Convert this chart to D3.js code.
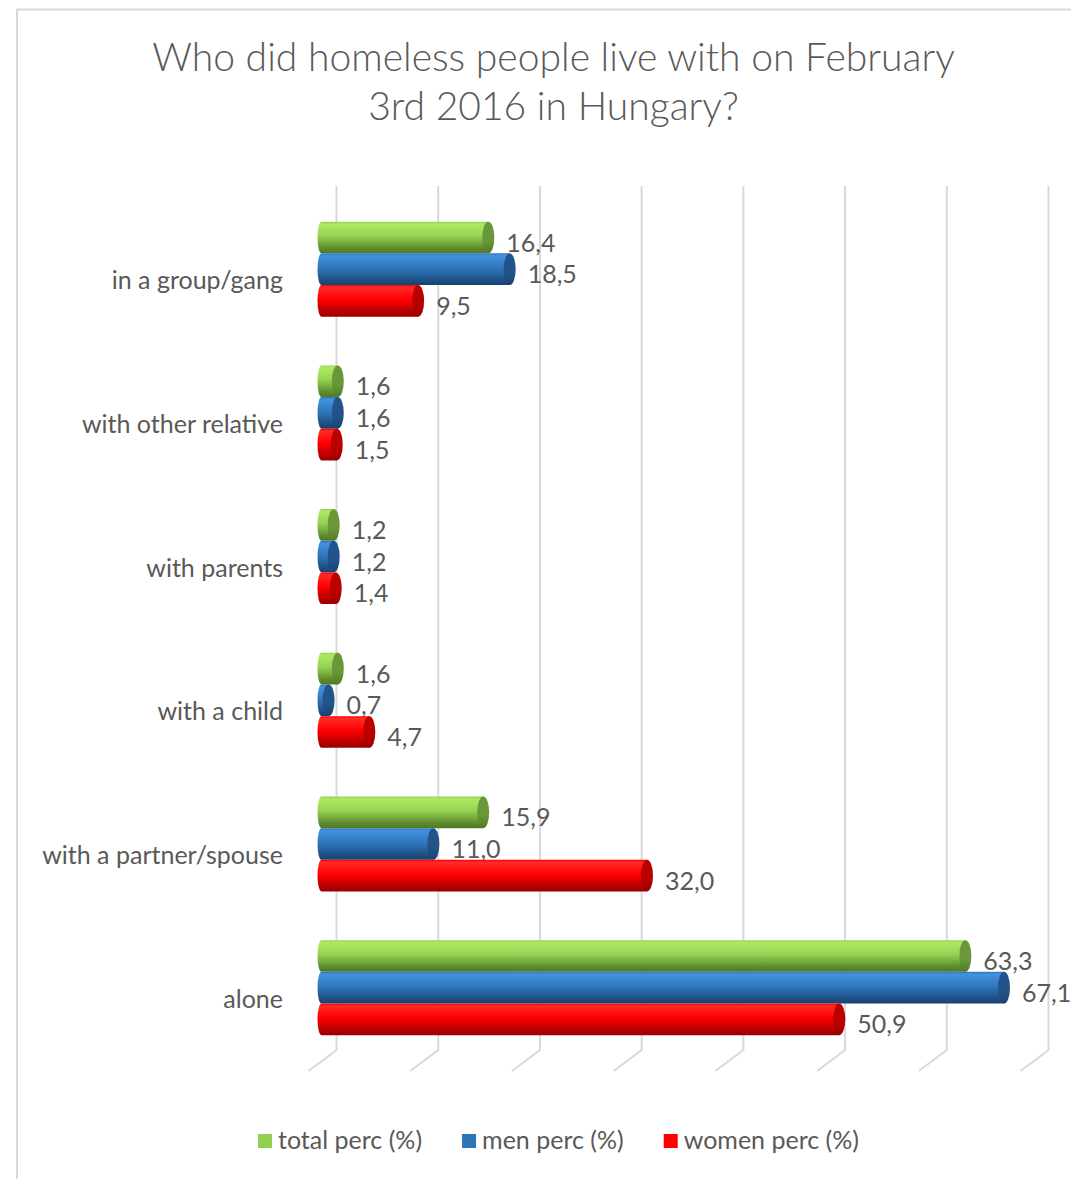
<!DOCTYPE html>
<html>
<head>
<meta charset="utf-8">
<script src="https://cdn.jsdelivr.net/npm/d3@7/dist/d3.min.js"></script>
<style>
  html, body { margin: 0; padding: 0; background: #ffffff; }
  svg { display: block; }
</style>
</head>
<body>
<div id="chart"></div>
<script>
// ---------- data ----------
const titleLines = ["Who did homeless people live with on February", "3rd 2016 in Hungary?"];
const categories = ["in a group/gang", "with other relative", "with parents", "with a child", "with a partner/spouse", "alone"];
const seriesNames = ["total perc (%)", "men perc (%)", "women perc (%)"];
const totalPerc = [16.4, 1.6, 1.2, 1.6, 15.9, 63.3];
const menPerc   = [18.5, 1.6, 1.2, 0.7, 11.0, 67.1];
const womenPerc = [9.5, 1.5, 1.4, 4.7, 32.0, 50.9];
const xTicks = [0, 10, 20, 30, 40, 50, 60, 70];

// ---------- styles ----------
const W = 1071, H = 1179;
const FONT = "Lato, Carlito, 'Open Sans', sans-serif";
const TEXT = "#595959";
const GRID = "#d9d9d9";
const palettes = [
  { light: "#aee865", base: "#95d352", dark: "#5c8a2c", edge: "#4e7a22", cap: "#6a9838", capDark: "#527a26", legend: "#92d050" },
  { light: "#4591dc", base: "#2f78c0", dark: "#1d4f82", edge: "#17426f", cap: "#22548a", capDark: "#1a426e", legend: "#2e75b6" },
  { light: "#ff2a2a", base: "#ff0000", dark: "#b30000", edge: "#990000", cap: "#bb0000", capDark: "#9a0000", legend: "#ff0000" }
];
const seriesValues = [totalPerc, menPerc, womenPerc];

const svg = d3.select("#chart").append("svg")
  .attr("width", W).attr("height", H)
  .style("font-family", FONT);

svg.append("rect").attr("width", W).attr("height", H).attr("fill", "#fff");

// frame
svg.append("path")
  .attr("d", `M17,${H} L17,9.5 L${W},9.5`)
  .attr("fill", "none").attr("stroke", GRID).attr("stroke-width", 2);

// ---------- scales ----------
const x = d3.scaleLinear().domain([0, 70]).range([321.5, 321.5 + 712]);
const step = 143.7, bandH = 95;
const pIn = (step - bandH) / step;
const y0 = 221.7 - (pIn / 2) * step;
const y = d3.scaleBand().domain(categories).range([y0, y0 + 6 * step])
  .paddingInner(pIn).paddingOuter(pIn / 2);
const ys = d3.scaleBand().domain(seriesNames).range([0, y.bandwidth()]);

const depthX = 15, floorDX = -28, floorDY = 21;
const gridTop = 186, gridBottom = 1050;

// ---------- gradients ----------
const defs = svg.append("defs");
palettes.forEach((p, i) => {
  const g = defs.append("linearGradient").attr("id", "body" + i)
    .attr("x1", 0).attr("y1", 0).attr("x2", 0).attr("y2", 1);
  g.append("stop").attr("offset", "0%").attr("stop-color", p.base);
  g.append("stop").attr("offset", "8%").attr("stop-color", p.light);
  g.append("stop").attr("offset", "45%").attr("stop-color", p.base);
  g.append("stop").attr("offset", "85%").attr("stop-color", p.dark);
  g.append("stop").attr("offset", "100%").attr("stop-color", p.edge);
  const c = defs.append("linearGradient").attr("id", "cap" + i)
    .attr("x1", 0).attr("y1", 0).attr("x2", 0).attr("y2", 1);
  c.append("stop").attr("offset", "0%").attr("stop-color", p.cap);
  c.append("stop").attr("offset", "60%").attr("stop-color", p.cap);
  c.append("stop").attr("offset", "100%").attr("stop-color", p.capDark);
});

// ---------- gridlines (back wall + floor) ----------
const grid = svg.append("g");
grid.selectAll("path").data(xTicks).join("path")
  .attr("d", t => {
    const gx = x(t) + depthX;
    return `M${gx},${gridTop} L${gx},${gridBottom} L${gx + floorDX},${gridBottom + floorDY}`;
  })
  .attr("fill", "none").attr("stroke", GRID).attr("stroke-width", 2);

// ---------- bars ----------
const capRx = 6, leftRx = 4;
const fmt = v => d3.format(".1f")(v).replace(".", ",");

const barsData = [];
categories.forEach((c, ci) => {
  seriesNames.forEach((s, si) => {
    barsData.push({ cat: c, series: s, si, value: seriesValues[si][ci] });
  });
});

const bars = svg.append("g").selectAll("g").data(barsData).join("g");
bars.append("path")
  .attr("d", d => {
    const top = y(d.cat) + ys(d.series), h = ys.bandwidth(), bot = top + h;
    const x0 = x(0), x1 = x(d.value);
    return `M${x0},${top} L${x1},${top} L${x1},${bot} L${x0},${bot} A${leftRx},${h / 2} 0 0 1 ${x0},${top} Z`;
  })
  .attr("fill", d => `url(#body${d.si})`);
bars.append("ellipse")
  .attr("cx", d => x(d.value))
  .attr("cy", d => y(d.cat) + ys(d.series) + ys.bandwidth() / 2)
  .attr("rx", capRx)
  .attr("ry", ys.bandwidth() / 2)
  .attr("fill", d => `url(#cap${d.si})`);

// ---------- text sizing (fit to reference widths) ----------
function fitSize(str, target, weight) {
  const t = svg.append("text").attr("font-size", 100).attr("font-weight", weight || 400).text(str);
  const w = t.node().getComputedTextLength();
  t.remove();
  return 100 * target / w;
}
const labelSize = fitSize("with a partner/spouse", 241);
const titleSize = fitSize(titleLines[0], 803, 300);

// value labels
bars.append("text")
  .attr("x", d => x(d.value) + capRx + 12)
  .attr("y", d => y(d.cat) + ys(d.series) + ys.bandwidth() / 2 + 14)
  .attr("font-size", labelSize)
  .attr("fill", TEXT)
  .text(d => fmt(d.value));

// category labels
svg.append("g").selectAll("text").data(categories).join("text")
  .attr("x", 283)
  .attr("y", c => y(c) + y.bandwidth() / 2 + 20)
  .attr("text-anchor", "end")
  .attr("font-size", labelSize)
  .attr("fill", TEXT)
  .text(c => c);

// title
svg.append("g").selectAll("text").data(titleLines).join("text")
  .attr("x", 553.5)
  .attr("y", (d, i) => 71 + i * 49)
  .attr("text-anchor", "middle")
  .attr("font-size", titleSize)
  .attr("font-weight", 300)
  .attr("fill", TEXT)
  .text(d => d);

// legend
const legend = svg.append("g");
let lx = 258;
seriesNames.forEach((s, i) => {
  legend.append("rect").attr("x", lx).attr("y", 1134).attr("width", 14).attr("height", 14)
    .attr("fill", palettes[i].legend);
  const t = legend.append("text").attr("x", lx + 20).attr("y", 1149)
    .attr("font-size", labelSize).attr("fill", TEXT).text(s);
  lx += 20 + t.node().getComputedTextLength() + 40;
});
</script>
</body>
</html>
